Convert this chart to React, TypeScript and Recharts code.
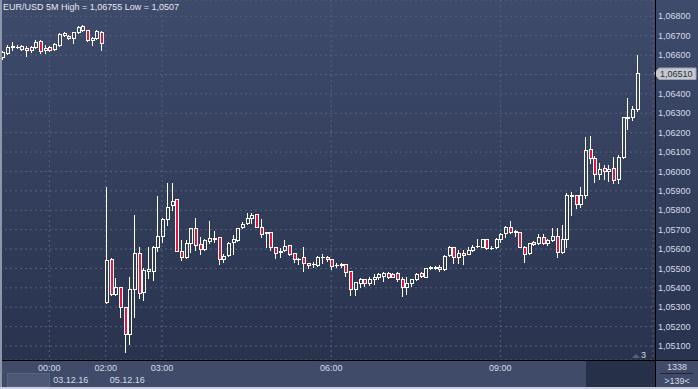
import React from 'react';
import { BarChart, Bar, XAxis, YAxis, CartesianGrid, ReferenceLine } from 'recharts';

// EUR/USD 5M candles, [open, high, low, close]
const fridayCandles: number[][] = [
  [1.06590, 1.06621, 1.06579, 1.06615], [1.06613, 1.06654, 1.06607, 1.06644],
  [1.06649, 1.06667, 1.06626, 1.06641], [1.06641, 1.06652, 1.06636, 1.06644],
  [1.06631, 1.06652, 1.06626, 1.06646], [1.06637, 1.06649, 1.06597, 1.06626],
  [1.06626, 1.06649, 1.06615, 1.06640], [1.06643, 1.06677, 1.06636, 1.06667],
  [1.06674, 1.06677, 1.06610, 1.06623], [1.06626, 1.06652, 1.06610, 1.06634],
  [1.06640, 1.06646, 1.06621, 1.06626], [1.06631, 1.06662, 1.06626, 1.06657],
  [1.06652, 1.06713, 1.06646, 1.06708], [1.06703, 1.06717, 1.06698, 1.06713],
  [1.06698, 1.06703, 1.06685, 1.06689], [1.06688, 1.06721, 1.06662, 1.06719],
  [1.06719, 1.06749, 1.06713, 1.06744], [1.06729, 1.06755, 1.06724, 1.06751],
  [1.06727, 1.06731, 1.06672, 1.06677], [1.06677, 1.06693, 1.06652, 1.06688],
  [1.06688, 1.06727, 1.06682, 1.06724], [1.06721, 1.06726, 1.06626, 1.06662],
];

const mondayCandles: number[][] = [
  [1.05328, 1.05921, 1.05323, 1.05543], [1.05547, 1.05553, 1.05363, 1.05368],
  [1.05368, 1.05449, 1.05365, 1.05402], [1.05402, 1.05404, 1.05248, 1.05299],
  [1.05299, 1.05301, 1.05070, 1.05160], [1.05160, 1.05454, 1.05109, 1.05392],
  [1.05392, 1.05775, 1.05251, 1.05578], [1.05578, 1.05609, 1.05346, 1.05372],
  [1.05377, 1.05500, 1.05337, 1.05492], [1.05488, 1.05609, 1.05452, 1.05495],
  [1.05488, 1.05615, 1.05440, 1.05609], [1.05609, 1.05873, 1.05590, 1.05667],
  [1.05667, 1.05760, 1.05636, 1.05753], [1.05753, 1.05939, 1.05724, 1.05818],
  [1.05825, 1.05939, 1.05801, 1.05849], [1.05856, 1.05858, 1.05588, 1.05591],
  [1.05591, 1.05646, 1.05543, 1.05557], [1.05560, 1.05646, 1.05556, 1.05629],
  [1.05632, 1.05708, 1.05586, 1.05707], [1.05707, 1.05761, 1.05595, 1.05619],
  [1.05624, 1.05660, 1.05574, 1.05598], [1.05601, 1.05650, 1.05595, 1.05645],
  [1.05643, 1.05744, 1.05629, 1.05655], [1.05653, 1.05694, 1.05638, 1.05658],
  [1.05660, 1.05663, 1.05521, 1.05550], [1.05550, 1.05574, 1.05534, 1.05562],
  [1.05567, 1.05636, 1.05564, 1.05631], [1.05634, 1.05672, 1.05574, 1.05650],
  [1.05648, 1.05708, 1.05643, 1.05707], [1.05712, 1.05741, 1.05707, 1.05729],
  [1.05732, 1.05787, 1.05729, 1.05758], [1.05758, 1.05787, 1.05732, 1.05775],
  [1.05780, 1.05783, 1.05713, 1.05715], [1.05715, 1.05753, 1.05663, 1.05676],
  [1.05688, 1.05690, 1.05609, 1.05681], [1.05686, 1.05690, 1.05595, 1.05609],
  [1.05609, 1.05610, 1.05552, 1.05581], [1.05588, 1.05604, 1.05560, 1.05584],
  [1.05595, 1.05646, 1.05591, 1.05617], [1.05620, 1.05623, 1.05569, 1.05574],
  [1.05578, 1.05582, 1.05533, 1.05547], [1.05549, 1.05553, 1.05521, 1.05551],
  [1.05557, 1.05609, 1.05488, 1.05526], [1.05526, 1.05530, 1.05500, 1.05516],
  [1.05522, 1.05535, 1.05509, 1.05524], [1.05516, 1.05564, 1.05512, 1.05560],
  [1.05559, 1.05574, 1.05526, 1.05560], [1.05560, 1.05564, 1.05540, 1.05547],
  [1.05547, 1.05548, 1.05495, 1.05512], [1.05520, 1.05529, 1.05506, 1.05518],
  [1.05519, 1.05526, 1.05506, 1.05521], [1.05521, 1.05523, 1.05462, 1.05483],
  [1.05485, 1.05487, 1.05361, 1.05392], [1.05394, 1.05431, 1.05361, 1.05428],
  [1.05426, 1.05449, 1.05406, 1.05444], [1.05444, 1.05448, 1.05409, 1.05426],
  [1.05426, 1.05457, 1.05414, 1.05444], [1.05444, 1.05471, 1.05420, 1.05457],
  [1.05454, 1.05478, 1.05444, 1.05470], [1.05461, 1.05481, 1.05437, 1.05478],
  [1.05478, 1.05481, 1.05450, 1.05454], [1.05470, 1.05475, 1.05456, 1.05457],
  [1.05478, 1.05481, 1.05437, 1.05444], [1.05444, 1.05457, 1.05358, 1.05402],
  [1.05406, 1.05454, 1.05366, 1.05423], [1.05426, 1.05445, 1.05409, 1.05444],
  [1.05444, 1.05478, 1.05440, 1.05471], [1.05475, 1.05483, 1.05456, 1.05461],
  [1.05457, 1.05503, 1.05456, 1.05500], [1.05503, 1.05512, 1.05495, 1.05506],
  [1.05503, 1.05511, 1.05497, 1.05506], [1.05506, 1.05516, 1.05488, 1.05495],
  [1.05497, 1.05569, 1.05492, 1.05564], [1.05567, 1.05617, 1.05564, 1.05609],
  [1.05609, 1.05613, 1.05526, 1.05557], [1.05560, 1.05595, 1.05526, 1.05581],
  [1.05581, 1.05595, 1.05521, 1.05569], [1.05574, 1.05609, 1.05572, 1.05595],
  [1.05595, 1.05619, 1.05590, 1.05612], [1.05614, 1.05650, 1.05609, 1.05617],
  [1.05612, 1.05653, 1.05610, 1.05650], [1.05650, 1.05651, 1.05601, 1.05604],
  [1.05608, 1.05617, 1.05600, 1.05606], [1.05609, 1.05655, 1.05605, 1.05650],
  [1.05650, 1.05684, 1.05638, 1.05677], [1.05681, 1.05718, 1.05663, 1.05712],
  [1.05715, 1.05744, 1.05681, 1.05686], [1.05689, 1.05698, 1.05667, 1.05691],
  [1.05686, 1.05688, 1.05610, 1.05612], [1.05612, 1.05615, 1.05531, 1.05573],
  [1.05578, 1.05633, 1.05573, 1.05629], [1.05634, 1.05640, 1.05620, 1.05626],
  [1.05629, 1.05676, 1.05626, 1.05663], [1.05663, 1.05676, 1.05626, 1.05629],
  [1.05629, 1.05650, 1.05620, 1.05646], [1.05646, 1.05708, 1.05641, 1.05667],
  [1.05667, 1.05708, 1.05560, 1.05583], [1.05586, 1.05724, 1.05581, 1.05650],
  [1.05650, 1.05887, 1.05612, 1.05878], [1.05876, 1.05895, 1.05775, 1.05878],
  [1.05878, 1.05881, 1.05813, 1.05830], [1.05830, 1.05921, 1.05815, 1.05878],
  [1.05878, 1.06176, 1.05861, 1.06110], [1.06114, 1.06182, 1.06042, 1.06067],
  [1.06067, 1.06079, 1.05947, 1.05987], [1.05987, 1.06042, 1.05959, 1.06012],
  [1.06016, 1.06033, 1.05959, 1.06002], [1.06002, 1.06033, 1.05952, 1.06012],
  [1.06016, 1.06073, 1.05939, 1.05956], [1.05959, 1.06084, 1.05942, 1.06076],
  [1.06076, 1.06280, 1.06067, 1.06279], [1.06278, 1.06377, 1.06217, 1.06279],
  [1.06279, 1.06337, 1.06265, 1.06320], [1.06320, 1.06600, 1.06311, 1.06510],
];

const emptySlots = 3; // chart shift on the right
const tickSlots = [10, 22, 34, 70, 106];
const tickTimes = ['00:00', '02:00', '03:00', '06:00', '09:00'];
const tickDates = ['03.12.16', '05.12.16', '', '', ''];
const priceTicks = [
  1.051, 1.052, 1.053, 1.054, 1.055, 1.056, 1.057, 1.058, 1.059,
  1.060, 1.061, 1.062, 1.063, 1.064, 1.065, 1.066, 1.067, 1.068,
];

const allCandles = [...fridayCandles, ...mondayCandles];
const data = [
  ...allCandles.map((c, i) => ({ slot: i, open: c[0], high: c[1], low: c[2], close: c[3] })),
  ...Array.from({ length: emptySlots }, (_, k) => ({ slot: allCandles.length + k, open: null, high: null, low: null, close: null })),
];
const lastClose = allCandles[allCandles.length - 1][3];

const FONT = '"Liberation Sans", Arial, sans-serif';
const TEXT = '#d3dbea';
const fmt = (v: number) => v.toFixed(5).replace('.', ',');
// the price tag covers the axis label next to it
const axisFmt = (v: number) => (Math.abs(v - lastClose) < 0.0004 ? '' : fmt(v));

const Candle = (props: any) => {
  const { x, y, width, height, payload } = props;
  if (!payload || payload.open == null) return null;
  const { open, high, low, close } = payload;
  const ppu = height / (high - low);
  const py = (v: number) => y + (high - v) * ppu;
  const c = Math.round(x + width / 2);
  const top = Math.round(py(Math.max(open, close)));
  const bot = Math.round(py(Math.min(open, close)));
  const hi = Math.round(py(high));
  const lo = Math.round(py(low));
  const bear = close < open;
  return (
    <g>
      {hi < top && <line x1={c + 0.5} x2={c + 0.5} y1={hi} y2={top} stroke="#fff" />}
      {lo > bot && <line x1={c + 0.5} x2={c + 0.5} y1={bot} y2={lo + 1} stroke="#fff" />}
      {bot - top >= 1 ? (
        <rect x={c - 0.5} y={top + 0.5} width={3} height={bot - top} fill={bear ? '#e3173e' : 'none'} stroke="#fff" />
      ) : (
        <line x1={c - 1} x2={c + 3} y1={top + 0.5} y2={top + 0.5} stroke="#fff" />
      )}
    </g>
  );
};

const TimeTick = (props: any) => {
  const { x, payload } = props;
  const k = tickSlots.indexOf(payload.value);
  if (k < 0) return null;
  return (
    <g fontFamily={FONT} fontSize={9} fill={TEXT}>
      <text x={x} y={371} textAnchor="middle">{tickTimes[k]}</text>
      {tickDates[k] && <text x={x + 4} y={383} textAnchor="start">{tickDates[k]}</text>}
    </g>
  );
};

const PriceTag = (props: any) => {
  const { viewBox } = props;
  const x0 = viewBox.x + viewBox.width;
  const yc = Math.round(viewBox.y) + 0.5;
  return (
    <g>
      <polygon
        points={`${x0 + 1},${yc} ${x0 + 6},${yc - 5.5} ${x0 + 43},${yc - 5.5} ${x0 + 43},${yc + 6} ${x0 + 6},${yc + 6}`}
        fill="#c5c8ce"
        stroke="#9ea3ad"
      />
      <text x={x0 + 7} y={yc + 3.5} fontFamily={FONT} fontSize={9} fill="#2a2f3a">{fmt(lastClose)}</text>
    </g>
  );
};

export default function App() {
  return (
    <div
      style={{
        position: 'absolute', left: 0, top: 0, width: 698, height: 389, overflow: 'hidden',
        background: 'linear-gradient(#3e4b6b 0px, #29334e 360px, #29334e 389px)', fontFamily: FONT,
      }}
    >
      {/* bottom time bar */}
      <div style={{ position: 'absolute', left: 0, top: 360, width: 698, height: 27, background: '#3f4b68' }} />
      <div style={{ position: 'absolute', left: 586, top: 361, width: 69, height: 26, background: '#263049' }} />
      <div style={{ position: 'absolute', left: 7, top: 373, width: 43, height: 14, background: '#4b5774', boxSizing: 'border-box', border: '1px solid #56627e' }} />
      <div style={{ position: 'absolute', left: 0, top: 387, width: 698, height: 2, background: '#c6cdd9' }} />

      <div style={{ position: 'absolute', left: 0, top: 0 }}>
        <BarChart width={698} height={389} data={data} margin={{ top: 0, right: 0, bottom: 0, left: 0 }}>
          <CartesianGrid stroke="#55627f" strokeDasharray="2 3" />
          <XAxis
            dataKey="slot"
            type="category"
            ticks={tickSlots}
            interval={0}
            height={29}
            axisLine={false}
            tickLine={false}
            tick={<TimeTick />}
          />
          <YAxis
            orientation="right"
            type="number"
            domain={[1.05028, 1.06884]}
            allowDataOverflow
            ticks={priceTicks}
            interval={0}
            width={45}
            axisLine={false}
            tickLine={false}
            tickSize={0}
            tickMargin={5}
            tickFormatter={axisFmt}
            tick={{ fontSize: 9, fill: TEXT, fontFamily: FONT }}
          />
          <Bar
            dataKey={(d: any) => (d.open == null ? null : [d.low, d.high])}
            shape={(p: any) => <Candle {...p} />}
            isAnimationActive={false}
          />
          <ReferenceLine y={lastClose} stroke="none" label={<PriceTag />} ifOverflow="visible" />
        </BarChart>
      </div>

      {/* frame lines */}
      <div style={{ position: 'absolute', left: 655, top: 0, width: 1, height: 387, background: '#000' }} />
      <div style={{ position: 'absolute', left: 0, top: 360, width: 698, height: 1, background: '#000' }} />
      <div style={{ position: 'absolute', left: 0, top: 0, width: 2, height: 387, background: '#8e97aa' }} />

      <div style={{ position: 'absolute', left: 3, top: 2, fontSize: 9, color: '#e4e9f2', whiteSpace: 'nowrap' }}>
        EUR/USD 5M High = 1,06755 Low = 1,0507
      </div>

      <svg style={{ position: 'absolute', left: 0, top: 0 }} width={698} height={389}>
        <polygon points="632,358 636,354 640,358" fill="#56627e" />
        <text x={641} y={358} fontFamily={FONT} fontSize={9} fill={TEXT}>3</text>
        <text x={677} y={370} fontFamily={FONT} fontSize={9} fill={TEXT} textAnchor="middle">1338</text>
        <line x1={660} x2={693} y1={373.5} y2={373.5} stroke="#1e2538" />
        <text x={677} y={384} fontFamily={FONT} fontSize={9} fill={TEXT} textAnchor="middle">&gt;139&lt;</text>
      </svg>
    </div>
  );
}
